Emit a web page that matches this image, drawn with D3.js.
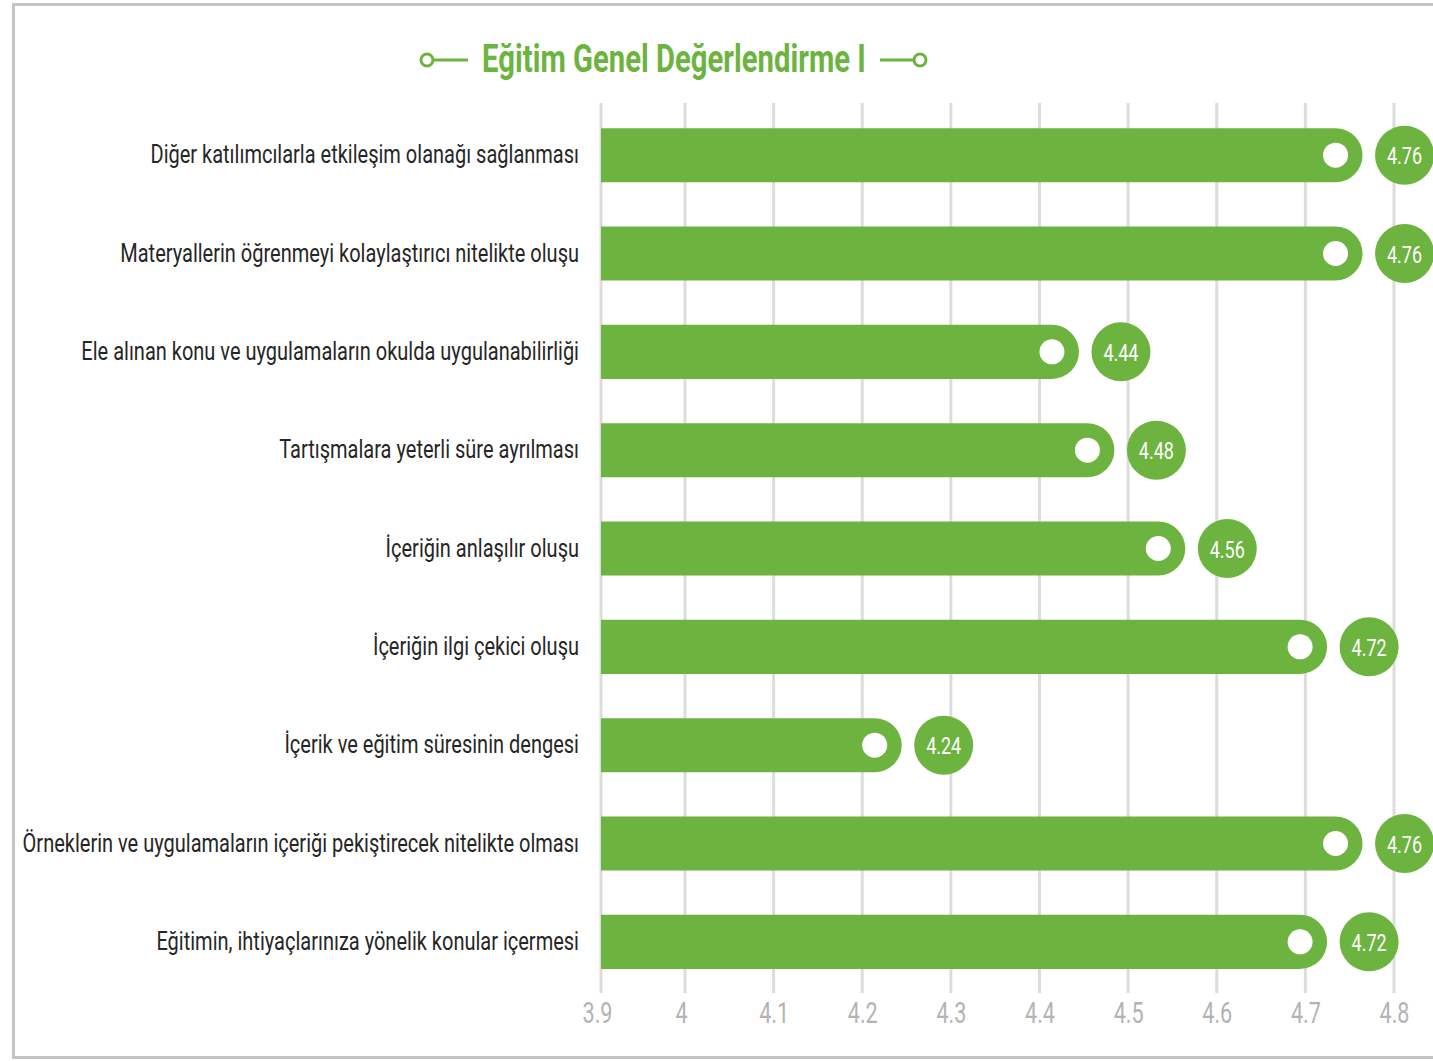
<!DOCTYPE html>
<html><head><meta charset="utf-8">
<script src="https://cdn.jsdelivr.net/npm/d3@7"></script>
<style>body{margin:0;background:#fff;}svg{display:block;}</style>
</head><body>
<script>
const title = "Eğitim Genel Değerlendirme I";
const categories = [
  "Diğer katılımcılarla etkileşim olanağı sağlanması",
  "Materyallerin öğrenmeyi kolaylaştırıcı nitelikte oluşu",
  "Ele alınan konu ve uygulamaların okulda uygulanabilirliği",
  "Tartışmalara yeterli süre ayrılması",
  "İçeriğin anlaşılır oluşu",
  "İçeriğin ilgi çekici oluşu",
  "İçerik ve eğitim süresinin dengesi",
  "Örneklerin ve uygulamaların içeriği pekiştirecek nitelikte olması",
  "Eğitimin, ihtiyaçlarınıza yönelik konular içermesi"
];
const values = [4.76, 4.76, 4.44, 4.48, 4.56, 4.72, 4.24, 4.76, 4.72];
const tickValues = [3.9, 4, 4.1, 4.2, 4.3, 4.4, 4.5, 4.6, 4.7, 4.8];
const tickLabels = ["3.9","4","4.1","4.2","4.3","4.4","4.5","4.6","4.7","4.8"];

const W = 1433, H = 1061;
const green = "#6cb43f";
const font = "Roboto, 'Noto Sans', sans-serif";

const svg = d3.select("body").append("svg").attr("width", W).attr("height", H);

// border
svg.append("rect").attr("x", 13.5).attr("y", 4.5).attr("width", 1440).attr("height", 1053)
  .attr("fill", "none").attr("stroke", "#c4c4c6").attr("stroke-width", 3);

const x = d3.scaleLinear().domain([3.9, 4, 4.8]).range([601, 685, 1394]);
const y = d3.scaleBand().domain(categories).range([106, 991]).paddingInner(0.45).paddingOuter(0.225);

function condense(sel, f) {
  sel.each(function() {
    const L = this.getComputedTextLength();
    d3.select(this).attr("textLength", L * f).attr("lengthAdjust", "spacingAndGlyphs");
  });
}

// gridlines
svg.append("g").selectAll("line").data(tickValues).join("line")
  .attr("x1", d => x(d)).attr("x2", d => x(d))
  .attr("y1", 103).attr("y2", 993)
  .attr("stroke", "#dcdcdc").attr("stroke-width", 3);

// axis labels
const axis = d3.axisBottom(x).tickValues(tickValues).tickFormat((d, i) => tickLabels[i]).tickSize(0).tickPadding(0);
const ag = svg.append("g").attr("transform", "translate(0,1023)").call(axis);
ag.select(".domain").remove();
ag.selectAll("text").attr("font-family", font).attr("font-size", 30).attr("fill", "#b3b3b5")
  .attr("dy", 0).attr("y", 0);
ag.selectAll(".tick").filter((d, i) => i < 2).select("text").attr("x", -4);
condense(ag.selectAll("text"), 0.72);

// bars
const bh = y.bandwidth();
const r = bh / 2;
const endX = d => x(d) + 4;
svg.append("g").selectAll("path").data(values).join("path")
  .attr("d", (d, i) => {
    const x0 = x(3.9), x1 = endX(d), t = y(categories[i]);
    return `M${x0},${t}H${x1 - r}A${r},${r} 0 0 1 ${x1 - r},${t + bh}H${x0}Z`;
  })
  .attr("fill", green);

// white dots
svg.append("g").selectAll("circle").data(values).join("circle")
  .attr("cx", d => endX(d) - 27).attr("cy", (d, i) => y(categories[i]) + r)
  .attr("r", 12.5).attr("fill", "#fff");

// value circles
svg.append("g").selectAll("circle").data(values).join("circle")
  .attr("cx", d => endX(d) + 42).attr("cy", (d, i) => y(categories[i]) + r)
  .attr("r", 29.5).attr("fill", green);
const vt = svg.append("g").selectAll("text").data(values).join("text")
  .attr("x", d => endX(d) + 42).attr("y", (d, i) => y(categories[i]) + r + 9)
  .attr("text-anchor", "middle").attr("font-family", font).attr("font-size", 24)
  .attr("fill", "#fff").text(d => d.toFixed(2));
condense(vt, 0.75);

// category labels
const lt = svg.append("g").selectAll("text").data(categories).join("text")
  .attr("x", 579).attr("y", d => y(d) + r + 8)
  .attr("text-anchor", "end").attr("font-family", font).attr("font-size", 25)
  .attr("fill", "#262626").text(d => d);
condense(lt, 0.80);

// title
const tt = svg.append("text").attr("x", 674).attr("y", 72).attr("text-anchor", "middle")
  .attr("font-family", font).attr("font-size", 38).attr("font-weight", "bold")
  .attr("fill", green).text(title);
condense(tt, 0.77);
const deco = svg.append("g").attr("stroke", green).attr("stroke-width", 3).attr("fill", "#fff");
deco.append("line").attr("x1", 433).attr("x2", 468).attr("y1", 60).attr("y2", 60);
deco.append("circle").attr("cx", 427).attr("cy", 60).attr("r", 6);
deco.append("line").attr("x1", 880).attr("x2", 914).attr("y1", 60).attr("y2", 60);
deco.append("circle").attr("cx", 920).attr("cy", 60).attr("r", 6);
</script>
</body></html>
